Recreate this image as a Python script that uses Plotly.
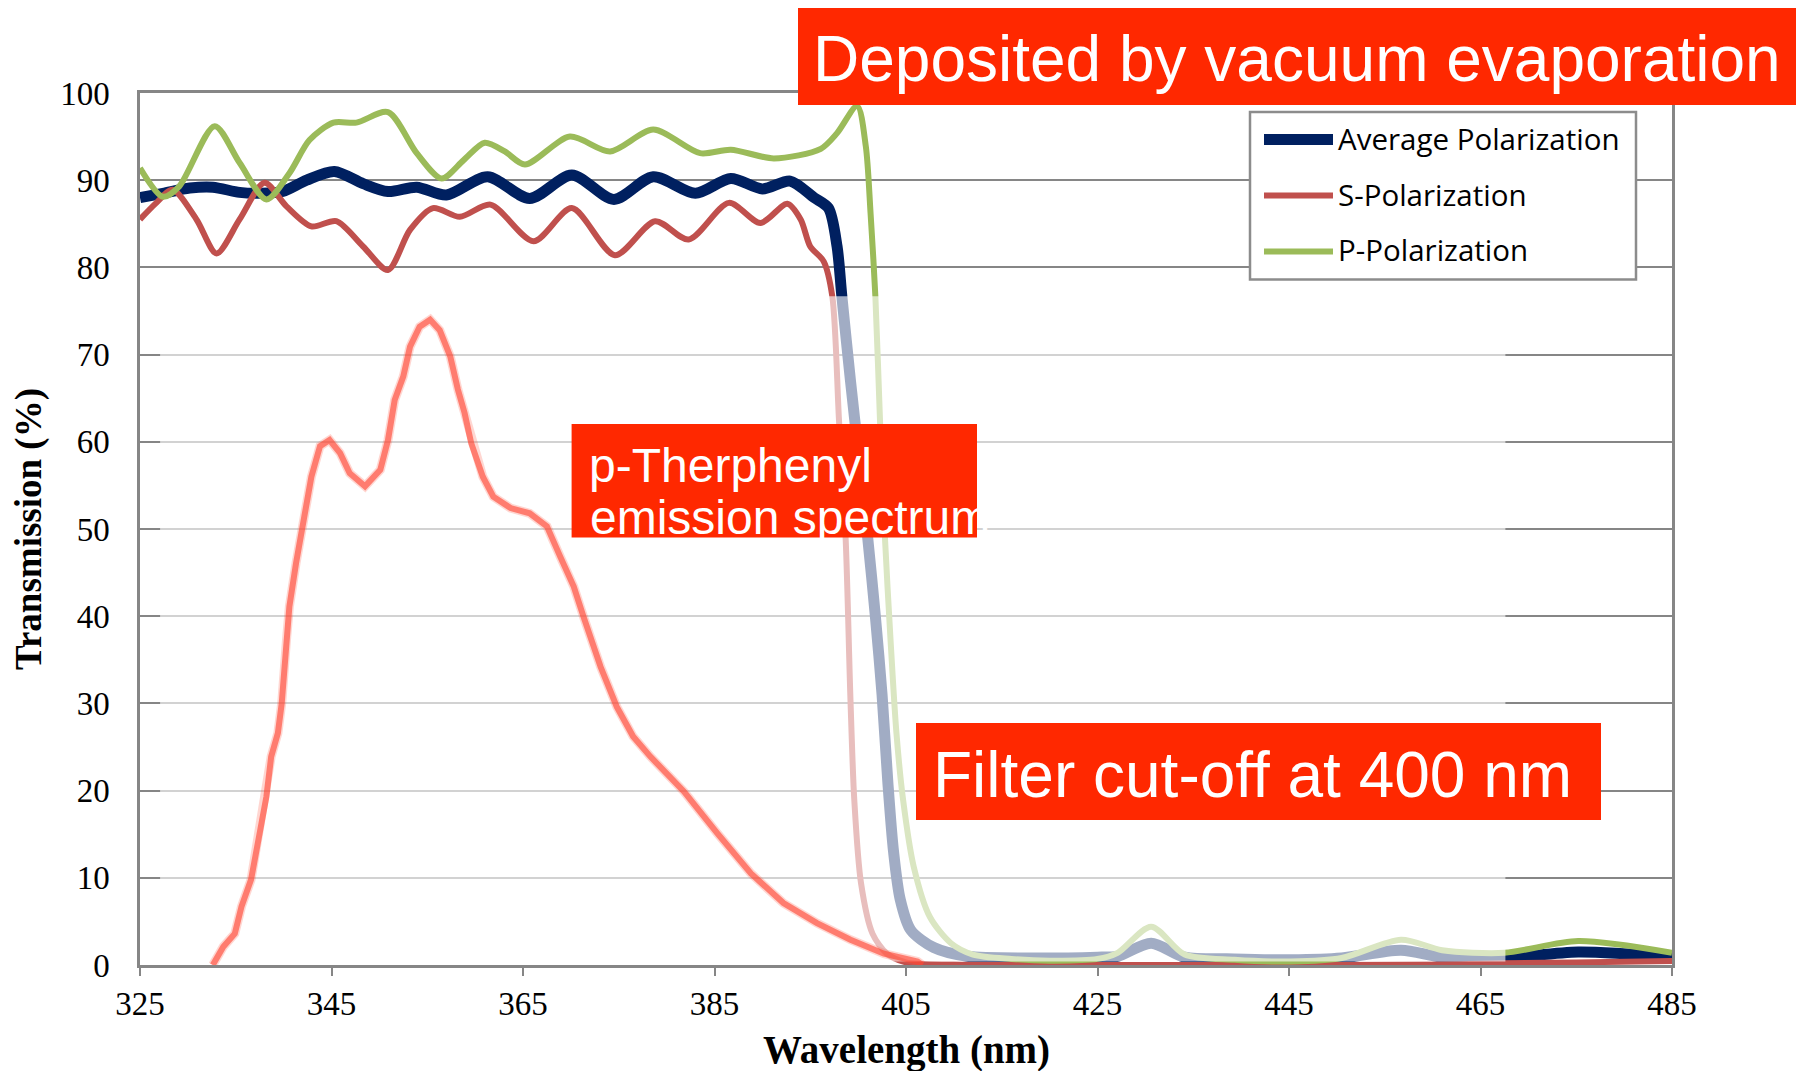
import plotly.graph_objects as go

# ---------------------------------------------------------------- data
# Average polarization transmission (%)
avg_wl = [325, 327.4, 330.2, 332.6, 335.4, 337.5, 339.9, 342.4, 345.3, 348.3,
          350.9, 353.9, 357.0, 361.3, 365.7, 370.1, 374.5, 378.6, 383.0, 386.7,
          390.0, 392.9, 395.4, 396.9, 397.8, 398.3, 399.2, 400.1, 401.0, 401.8,
          402.5, 403.1, 403.7, 404.4, 405.5, 407.9, 411.4, 418.4, 425.0, 427.1,
          430.6, 434.1, 439.3, 445.2, 450.5, 456.7, 461.0, 467.5, 475.2, 485.0]
avg_t = [88.0, 88.5, 89.1, 89.2, 88.6, 88.5, 88.7, 90.0, 91.0, 89.6,
         88.7, 89.2, 88.3, 90.4, 87.9, 90.6, 87.8, 90.4, 88.5, 90.2,
         89.0, 89.9, 88.0, 86.8, 82.4, 76.7, 67.0, 58.0, 49.0, 40.0,
         31.0, 21.0, 13.0, 7.5, 4.0, 2.0, 1.0, 0.8, 0.9, 1.0,
         2.5, 0.9, 0.7, 0.6, 0.8, 1.7, 0.9, 0.8, 1.5, 0.9]

# S-polarization transmission (%)
s_wl = [325, 326.7, 328.4, 330.9, 333.0, 335.4, 338.0, 340.3, 342.9, 345.5,
        348.3, 350.9, 353.2, 355.6, 358.4, 361.6, 366.1, 370.1, 374.6, 378.8,
        382.3, 386.5, 389.8, 392.6, 394.0, 395.0, 396.4, 397.3, 398.0, 398.7,
        399.2, 399.6, 400.3, 401.5, 403.0, 405.0, 410.0, 420.0, 440.0, 460.0,
        467.5, 475.0, 485.0]
s_t = [85.5, 87.4, 88.9, 85.5, 81.6, 85.5, 89.7, 87.0, 84.7, 85.3,
       82.4, 79.7, 84.3, 86.8, 85.8, 87.2, 83.0, 86.8, 81.4, 85.3,
       83.2, 87.4, 85.1, 87.3, 85.5, 82.4, 80.7, 76.7, 62.5, 48.8,
       30.4, 18.9, 9.4, 3.6, 1.3, 0.3, 0.05, 0.0, 0.0, 0.05,
       0.2, 0.3, 0.45]

# P-polarization transmission (%)
p_wl = [325, 327.4, 329.1, 332.8, 335.4, 338.2, 340.6, 342.7, 345.2, 347.6,
        350.9, 353.9, 356.5, 358.8, 361.0, 363.1, 365.2, 369.9, 374.1, 378.6,
        383.5, 386.7, 391.2, 396.1, 397.8, 399.9, 400.8, 401.3, 401.8, 402.3,
        402.8, 403.4, 404.0, 404.7, 405.8, 407.5, 409.7, 412.0, 416.0, 420.0,
        425.0, 427.1, 430.6, 434.1, 439.3, 445.2, 450.5, 456.7, 461.0, 467.5,
        475.2, 485.0]
p_t = [91.4, 88.1, 89.3, 96.2, 92.0, 87.8, 90.8, 94.6, 96.6, 96.6,
       97.8, 93.1, 90.2, 92.3, 94.3, 93.3, 91.8, 95.0, 93.3, 95.8,
       93.1, 93.5, 92.5, 93.6, 95.4, 98.5, 93.9, 86.2, 76.7, 62.0,
       49.0, 37.0, 26.6, 18.9, 11.3, 5.5, 2.5, 1.2, 0.7, 0.5,
       0.7, 1.4, 4.4, 1.2, 0.6, 0.4, 0.8, 2.9, 1.7, 1.4,
       2.75, 1.4]

# p-Therphenyl emission spectrum (arbitrary units, on the same scale)
em_wl = [332.6, 333.7, 334.9, 335.6, 336.6, 337.3, 338.2, 338.7, 339.4, 339.8,
         340.3, 340.6, 341.3, 342.0, 342.9, 343.8, 344.8, 345.9, 346.9, 348.5,
         350.1, 350.9, 351.6, 352.5, 353.2, 354.2, 355.3, 356.3, 357.4, 358.2,
         358.9, 359.6, 360.8, 361.9, 363.7, 365.7, 367.5, 368.9, 370.3, 371.3,
         373.1, 374.8, 376.5, 378.3, 381.8, 385.3, 388.8, 392.2, 395.7, 399.2,
         402.7, 406.2, 406.7]
em_t = [0.0, 2.1, 3.6, 6.7, 9.8, 14.3, 19.3, 23.9, 26.6, 30.0,
        37.3, 41.1, 46.1, 50.7, 56.0, 59.5, 60.2, 58.7, 56.4, 54.9,
        56.8, 60.2, 64.8, 67.5, 70.9, 73.2, 74.0, 72.8, 69.8, 66.0,
        63.3, 59.8, 56.0, 53.7, 52.4, 51.8, 50.3, 46.8, 43.4, 40.0,
        34.2, 29.6, 26.2, 23.9, 19.9, 15.1, 10.5, 7.1, 4.8, 2.9,
        1.3, 0.4, 0.0]

# Blocked band beyond the cut-off, shown washed out
FADE_WL = (327.1, 467.6)
FADE_T = (0.4, 76.7)

X_TICKS = [325, 345, 365, 385, 405, 425, 445, 465, 485]
Y_TICKS = [0, 10, 20, 30, 40, 50, 60, 70, 80, 90, 100]

# ---------------------------------------------------------------- layout helpers
W, H = 1796, 1071
MARGIN = dict(l=140, r=124, t=93, b=106)
PW = W - MARGIN["l"] - MARGIN["r"]
PH = H - MARGIN["t"] - MARGIN["b"]


def px(x):
    """Pixel column -> paper x."""
    return (x - MARGIN["l"]) / PW


def py(y):
    """Pixel row -> paper y."""
    return (H - MARGIN["b"] - y) / PH


NAVY = "#002060"
RED = "#C0504D"
GREEN = "#9BBB59"
BANNER = "#FF2800"
GRID = "#868686"
SERIF = "Liberation Serif, Times New Roman, serif"
SANS = "Liberation Sans, Arial, sans-serif"

fig = go.Figure()

fig.add_trace(go.Scatter(x=avg_wl, y=avg_t, name="Average Polarization", mode="lines",
                         line=dict(color=NAVY, width=11, shape="spline", smoothing=0.8)))
fig.add_trace(go.Scatter(x=s_wl, y=s_t, name="S-Polarization", mode="lines",
                         line=dict(color=RED, width=6, shape="spline", smoothing=0.8)))
fig.add_trace(go.Scatter(x=p_wl, y=p_t, name="P-Polarization", mode="lines",
                         line=dict(color=GREEN, width=6, shape="spline", smoothing=0.8)))

# white veil over the blocked band
fig.add_trace(go.Scatter(
    x=[FADE_WL[0], FADE_WL[1], FADE_WL[1], FADE_WL[0], FADE_WL[0]],
    y=[FADE_T[0], FADE_T[0], FADE_T[1], FADE_T[1], FADE_T[0]],
    mode="lines", fill="toself", fillcolor="rgba(255,255,255,0.63)",
    line=dict(width=0), hoverinfo="skip", showlegend=False))

# emission spectrum: soft halo + core
fig.add_trace(go.Scatter(x=em_wl, y=em_t, mode="lines", hoverinfo="skip", showlegend=False,
                         line=dict(color="rgba(255,90,70,0.25)", width=9)))
fig.add_trace(go.Scatter(x=em_wl, y=em_t, name="p-Therphenyl emission", mode="lines",
                         showlegend=False,
                         line=dict(color="rgba(255,70,50,0.62)", width=6)))

shapes = []
annotations = []


def banner(x0, y0, x1, y1):
    shapes.append(dict(type="rect", xref="paper", yref="paper", layer="above",
                       x0=px(x0), x1=px(x1), y0=py(y1), y1=py(y0),
                       fillcolor=BANNER, line=dict(width=0)))


def label(text, x, ymid, size, color="white", family=SANS, xanchor="left", angle=0):
    annotations.append(dict(text=text, xref="paper", yref="paper", x=px(x), y=py(ymid),
                            xanchor=xanchor, yanchor="middle", showarrow=False,
                            textangle=angle, borderpad=0, borderwidth=0,
                            font=dict(size=size, color=color, family=family)))


banner(798, 8, 1796, 105)
label("Deposited by vacuum evaporation", 813, 59, 64)

banner(571.6, 424, 977, 537.5)
label("p-Therphenyl", 589, 465.5, 48)
label("emission spectrum", 590, 517.5, 48)

banner(916, 723, 1601, 820)
label("Filter cut-off at 400 nm", 933, 775, 64)

# legend box
shapes.append(dict(type="rect", xref="paper", yref="paper", layer="above",
                   x0=px(1250), x1=px(1636), y0=py(279.5), y1=py(112),
                   fillcolor="white", line=dict(color="#8c8c8c", width=2.5)))
legend_items = [("Average Polarization", NAVY, 11, 139.5),
                ("S-Polarization", RED, 6, 195.6),
                ("P-Polarization", GREEN, 6, 251.4)]
for name, color, width, yy in legend_items:
    shapes.append(dict(type="line", xref="paper", yref="paper", layer="above",
                       x0=px(1264), x1=px(1333), y0=py(yy), y1=py(yy),
                       line=dict(color=color, width=width)))
    label(name, 1338, yy - 1.5, 29.5, color="#000000", family="Open Sans, sans-serif")

# axis titles
label("<b>Wavelength (nm)</b>", 906, 1049.5, 39, color="#000000", family=SERIF,
      xanchor="center")
label("<b>Transmission (%)</b>", 29, 529, 37, color="#000000", family=SERIF,
      xanchor="center", angle=-90)

fig.update_layout(
    width=W, height=H, margin=MARGIN, autosize=False,
    paper_bgcolor="white", plot_bgcolor="white",
    showlegend=False, hovermode=False,
    font=dict(family=SERIF, size=32, color="#000000"),
    shapes=shapes, annotations=annotations,
)
fig.update_xaxes(range=[325, 485], tickvals=X_TICKS, ticktext=[str(v) for v in X_TICKS],
                 showgrid=False, zeroline=False,
                 showline=True, linecolor=GRID, linewidth=2.5, mirror=True,
                 ticks="outside", ticklen=8, tickwidth=2, tickcolor=GRID,
                 ticklabelstandoff=0,
                 tickfont=dict(size=33, family=SERIF))
fig.update_yaxes(range=[0, 100], tickvals=Y_TICKS, ticktext=[str(v) for v in Y_TICKS],
                 showgrid=True, gridcolor=GRID, gridwidth=2, zeroline=False,
                 showline=True, linecolor=GRID, linewidth=2.5, mirror=True,
                 ticks="", ticklabelstandoff=21,
                 tickfont=dict(size=33, family=SERIF))

fig.write_html("out.html")
